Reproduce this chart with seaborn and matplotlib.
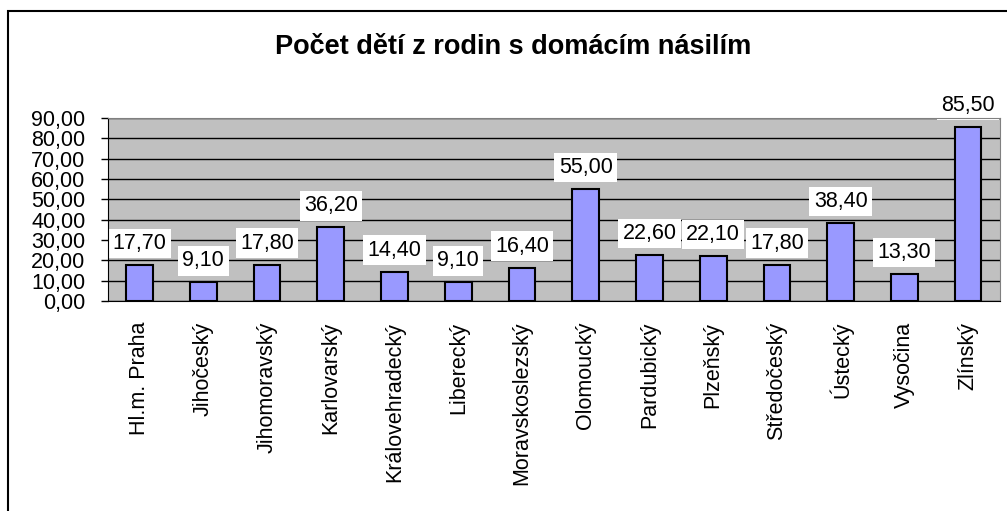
import pandas as pd
import matplotlib.pyplot as plt
import seaborn as sns
from matplotlib.ticker import FuncFormatter, MultipleLocator
from matplotlib.patches import Rectangle

# Data
kraje = ["Hl.m. Praha", "Jihočeský", "Jihomoravský", "Karlovarský", "Královehradecký",
         "Liberecký", "Moravskoslezský", "Olomoucký", "Pardubický", "Plzeňský",
         "Středočeský", "Ústecký", "Vysočina", "Zlínský"]
pocet = [17.7, 9.1, 17.8, 36.2, 14.4, 9.1, 16.4, 55.0, 22.6, 22.1, 17.8, 38.4, 13.3, 85.5]

df = pd.DataFrame({"kraj": kraje, "pocet": pocet})

sns.set_style("white")
plt.rcParams["font.family"] = ["Liberation Sans", "DejaVu Sans"]
plt.rcParams["text.color"] = "black"
plt.rcParams["xtick.color"] = "black"
plt.rcParams["ytick.color"] = "black"

fs = 15.5
fig = plt.figure(figsize=(10.07, 5.11), dpi=100)
ax = fig.add_axes([0.107, 0.411, 0.886, 0.358])

sns.barplot(data=df, x="kraj", y="pocet", color="#9999FF", width=0.42,
            edgecolor="black", linewidth=1.5, saturation=1, ax=ax, zorder=3)

czech = FuncFormatter(lambda v, p: f"{v:.2f}".replace(".", ","))

ax.set_facecolor("#C0C0C0")
ax.set_ylim(0, 90)
ax.set_xlim(-0.5, len(kraje) - 0.5)
ax.yaxis.set_major_locator(MultipleLocator(10))
ax.yaxis.set_major_formatter(czech)
ax.grid(axis="y", color="black", linewidth=1, zorder=0)
ax.set_axisbelow(True)
ax.set_xlabel("")
ax.set_ylabel("")

for side in ["top", "right"]:
    ax.spines[side].set_color("#808080")
for side in ["left", "bottom"]:
    ax.spines[side].set_color("black")
for sp in ax.spines.values():
    sp.set_zorder(10)

# category boundary ticks on the x axis
ax.set_xticks([i + 0.5 for i in range(len(kraje) - 1)], minor=True)
ax.set_xticks(range(len(kraje)))
ax.set_xticklabels(kraje, rotation=90, fontsize=fs, color="black")
ax.tick_params(axis="x", which="major", length=0, pad=15)
ax.tick_params(axis="x", which="minor", length=5, width=1, color="black", direction="out")
ax.tick_params(axis="y", length=5, width=1, color="black", labelcolor="black", direction="out",
               pad=11, labelsize=fs, left=True)

for i, v in enumerate(pocet):
    ax.annotate(czech(v, None), (i, v), xytext=(0, 8), textcoords="offset points",
                ha="center", va="bottom", fontsize=fs, color="black", annotation_clip=False,
                bbox=dict(boxstyle="square,pad=0.2", fc="white", ec="none"), zorder=2)

fig.text(0.51, 0.908, "Počet dětí z rodin s domácím násilím", ha="center", va="center",
         fontsize=19.5, fontweight="bold", color="black")

fig.patches.append(Rectangle((8 / 1007, -0.1), 1.2, 1 - 11 / 511 + 0.1, transform=fig.transFigure,
                             fill=False, edgecolor="black", linewidth=1.5))

plt.savefig("out.png", dpi=100)
